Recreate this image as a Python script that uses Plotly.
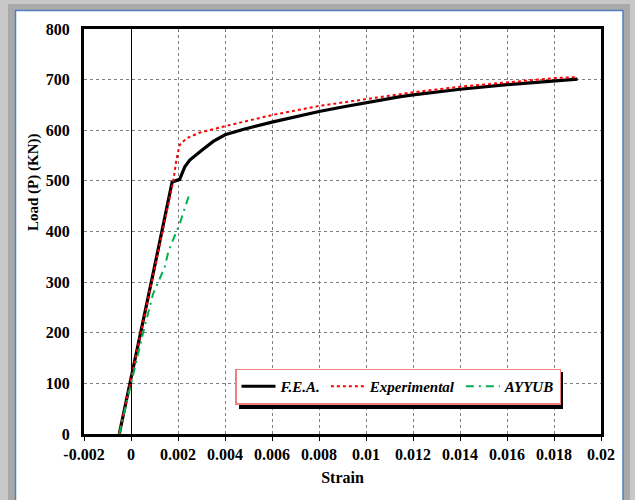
import plotly.graph_objects as go

# ---- data ----
fea_strain = [-0.0005, 0.0, 0.0005, 0.0010, 0.00175, 0.00207, 0.00229, 0.0025, 0.0030, 0.0035,
              0.0040, 0.0048, 0.0060, 0.0070, 0.0080, 0.0090, 0.0100, 0.0114, 0.0120, 0.0140,
              0.0160, 0.0180, 0.0190]
fea_load = [0, 108, 219, 330, 498, 503, 528, 541, 560, 578,
            591, 602, 616, 627, 637, 646, 655, 666, 670, 681,
            690, 698, 701]

exp_strain = [-0.0005, 0.0, 0.0005, 0.0010, 0.0018, 0.00193, 0.00207, 0.00236, 0.0029, 0.0040,
              0.0050, 0.0060, 0.0080, 0.0100, 0.0114, 0.0120, 0.0140, 0.0160, 0.0180, 0.0190]
exp_load = [0, 108, 219, 330, 500, 541, 571, 584, 595, 608,
            619, 630, 648, 661, 670, 675, 686, 695, 703, 705]

ayy_strain = [-0.0005, 0.0, 0.0005, 0.00094, 0.00143, 0.0016, 0.00179, 0.00207, 0.0025]
ayy_load = [0, 100, 197, 277, 329, 362, 382, 415, 476]

x_tickvals = [-0.002, 0, 0.002, 0.004, 0.006, 0.008, 0.01, 0.012, 0.014, 0.016, 0.018, 0.02]
x_ticktext = ["-0.002", "0", "0.002", "0.004", "0.006", "0.008", "0.01", "0.012", "0.014",
              "0.016", "0.018", "0.02"]
y_tickvals = [0, 100, 200, 300, 400, 500, 600, 700, 800]

FONT = "Liberation Serif"

fig = go.Figure()
fig.add_trace(go.Scatter(x=fea_strain, y=fea_load, mode="lines", name="F.E.A.",
                         line=dict(color="black", width=3.2)))
fig.add_trace(go.Scatter(x=exp_strain, y=exp_load, mode="lines", name="Experimental",
                         line=dict(color="#ff0000", width=2, dash="dot")))
fig.add_trace(go.Scatter(x=ayy_strain, y=ayy_load, mode="lines", name="AYYUB",
                         line=dict(color="#00b050", width=2, dash="8px,5px,2px,5px")))

# page frame (gray surround + white panel with blue border) and legend shadow
L, R, T, B = 84, 34, 29, 66
W, H = 635, 500
pw, ph = W - L - R, H - T - B


def px2x(p):
    return (p - L) / pw


def py2y(p):
    return (H - B - p) / ph


shapes = [
    dict(type="rect", xref="paper", yref="paper", layer="below",
         x0=px2x(8), x1=px2x(630), y0=py2y(520), y1=py2y(4),
         fillcolor="#a9a9a9", line=dict(width=0)),
    dict(type="rect", xref="paper", yref="paper", layer="below",
         x0=px2x(15.5), x1=px2x(623), y0=py2y(520), y1=py2y(10.5),
         fillcolor="white", line=dict(color="#4f81bd", width=1.5)),
    dict(type="rect", xref="paper", yref="paper", layer="above",
         x0=px2x(239), x1=px2x(563), y0=py2y(409), y1=py2y(372),
         fillcolor="black", line=dict(width=0)),
]

fig.update_layout(
    width=W, height=H,
    margin=dict(l=L, r=R, t=T, b=B),
    paper_bgcolor="#c8c8c8",
    plot_bgcolor="white",
    shapes=shapes,
    font=dict(family=FONT, color="black"),
    showlegend=True,
    legend=dict(orientation="h", x=px2x(235), y=py2y(368.5), xanchor="left", yanchor="top",
                bgcolor="white", bordercolor="#f08080", borderwidth=1.5,
                font=dict(family=FONT, size=15, weight="bold", style="italic", color="black"),
                itemwidth=34, tracegroupgap=0),
    annotations=[dict(text="<b>Load (P) (KN))</b>", textangle=-90, xref="paper", yref="paper",
                      x=px2x(33), y=py2y(182), xanchor="center", yanchor="middle",
                      showarrow=False,
                      font=dict(family=FONT, size=15, color="black"))],
)

fig.update_xaxes(range=[-0.002, 0.02], tickvals=x_tickvals, ticktext=x_ticktext,
                 showgrid=True, gridcolor="#7f7f7f", gridwidth=1, griddash="dot",
                 zeroline=True, zerolinecolor="black", zerolinewidth=1,
                 showline=True, linecolor="black", linewidth=3, mirror=True,
                 ticks="outside", ticklen=4, tickcolor="black",
                 tickfont=dict(family=FONT, size=16, weight="bold", color="black"),
                 title=dict(text="<b>Strain</b>", font=dict(family=FONT, size=16, color="black"),
                            standoff=10))
fig.update_yaxes(range=[0, 800], tickvals=y_tickvals,
                 showgrid=True, gridcolor="#7f7f7f", gridwidth=1, griddash="dot",
                 zeroline=False,
                 showline=True, linecolor="black", linewidth=3, mirror=True,
                 ticks="", ticklabelstandoff=8,
                 tickfont=dict(family=FONT, size=16, weight="bold", color="black"))

fig.write_html("out.html")
